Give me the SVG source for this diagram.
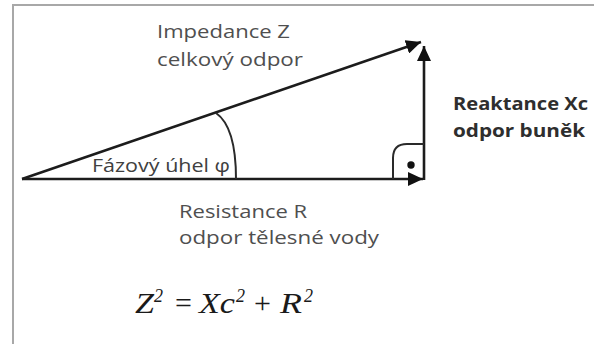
<svg xmlns="http://www.w3.org/2000/svg" width="594" height="344" viewBox="0 0 594 344">
<defs>
<style>
.lbl{font-family:"Open Sans","Liberation Sans",sans-serif;font-size:18px;fill:#4f4f4f}
.bold{font-family:"Open Sans","Liberation Sans",sans-serif;font-size:18px;font-weight:bold;fill:#2e2e2e}
.math{font-family:"Liberation Serif","Times New Roman",serif;font-style:italic;font-size:30px;fill:#1a1a1a}
.sup{font-family:"Liberation Serif","Times New Roman",serif;font-style:italic;font-size:18px;fill:#1a1a1a}
.op{font-family:"Liberation Serif","Times New Roman",serif;font-size:30px;fill:#1a1a1a}
.vec{stroke:#1c1c1c;stroke-width:2.6;fill:none}
.thin{stroke:#2a2a2a;stroke-width:2;fill:none}
</style>
<marker id="arr" markerUnits="userSpaceOnUse" markerWidth="16" markerHeight="14" refX="15" refY="7" orient="auto">
<path d="M0,0 L15,7 L0,14 z" fill="#111"/>
</marker>
</defs>
<rect x="0" y="0" width="594" height="344" fill="#fff"/>
<path d="M13,344 V5 H594" fill="none" stroke="#a8a8a8" stroke-width="2"/>
<g id="connectors">
<line class="vec" x1="22" y1="179" x2="423" y2="179" marker-end="url(#arr)"/>
<line class="vec" x1="424" y1="180" x2="424" y2="46" marker-end="url(#arr)"/>
<line class="vec" x1="22" y1="179" x2="421" y2="42" marker-end="url(#arr)"/>
<path id="angle-arc" class="thin" d="M216,113 C229,122 236,145 236,179"/>
<path id="right-angle" class="thin" d="M393,179 V158 Q393,144 407,144 H424"/>
<circle cx="411" cy="165" r="3.7" fill="#111"/>
</g>
<g id="impedance">
<text class="lbl" x="157" y="38" textLength="133" lengthAdjust="spacingAndGlyphs">Impedance Z</text>
<text class="lbl" x="157" y="66" textLength="146" lengthAdjust="spacingAndGlyphs">celkový odpor</text>
</g>
<g id="phase">
<text class="lbl" x="92" y="172" textLength="138" lengthAdjust="spacingAndGlyphs" style="fill:#404040">Fázový úhel φ</text>
</g>
<g id="reactance">
<text class="bold" x="453" y="110" textLength="135" lengthAdjust="spacingAndGlyphs">Reaktance Xc</text>
<text class="bold" x="453" y="137" textLength="132" lengthAdjust="spacingAndGlyphs">odpor buněk</text>
</g>
<g id="resistance">
<text class="lbl" x="179" y="218" textLength="128" lengthAdjust="spacingAndGlyphs">Resistance R</text>
<text class="lbl" x="179" y="244" textLength="200" lengthAdjust="spacingAndGlyphs">odpor tělesné vody</text>
</g>
<g id="formula">
<text class="math" x="135" y="313" textLength="19" lengthAdjust="spacingAndGlyphs">Z</text>
<text class="sup" x="154" y="302">2</text>
<text class="op" x="175" y="313">=</text>
<text class="math" x="199" y="313" textLength="36" lengthAdjust="spacingAndGlyphs">Xc</text>
<text class="sup" x="236" y="302">2</text>
<text class="op" x="254" y="313">+</text>
<text class="math" x="280" y="313" textLength="22" lengthAdjust="spacingAndGlyphs">R</text>
<text class="sup" x="304" y="302">2</text>
</g>
</svg>
